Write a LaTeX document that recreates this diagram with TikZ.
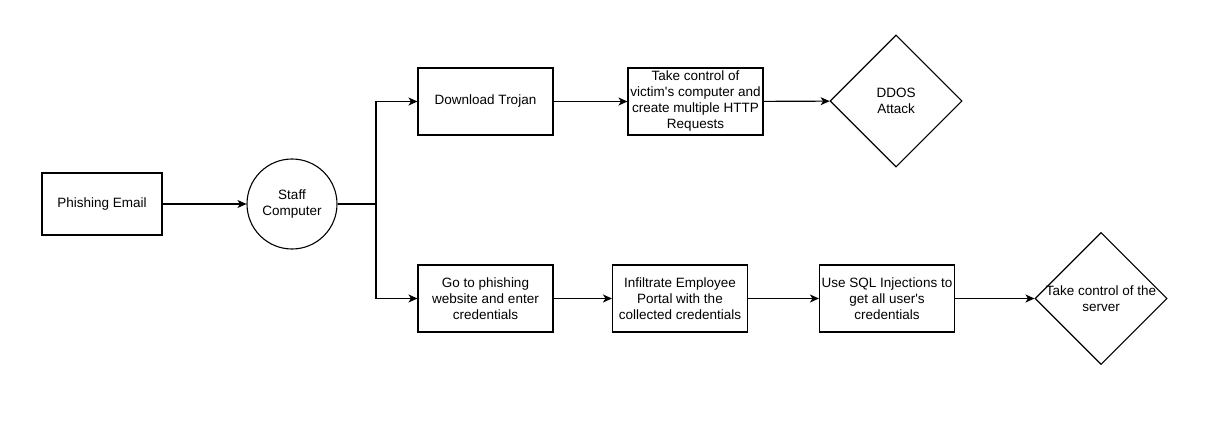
\documentclass[tikz,border=0pt]{standalone}
\usepackage{fontspec}
\setmainfont{Liberation Sans}
\usetikzlibrary{shapes.geometric,arrows.meta}
\begin{document}
\begin{tikzpicture}[x=1pt,y=-1pt,
  every node/.style={font=\fontsize{13.5}{16}\selectfont, align=center, text=black},
  box/.style={draw, line width=1.1pt, minimum width=135pt, minimum height=67pt, inner sep=1pt},
  circ/.style={draw, line width=1.1pt, circle, minimum size=90pt, inner sep=0pt},
  diam/.style={draw, line width=1.1pt, diamond, aspect=1, minimum size=132pt, inner sep=0pt},
  conn/.style={line width=1.1pt, -{Stealth[length=9pt,width=8pt,inset=2.5pt]}},
  plain/.style={line width=1.1pt}]
\useasboundingbox (0,0) rectangle (1218,433);
\node[box, minimum width=120pt, minimum height=62pt] (email) at (102,204) {Phishing Email};
\node[circ] (staff) at (292,204) {Staff\\Computer};
\coordinate (branch) at (376,204);
\node[box] (trojan) at (485.5,101.5) {Download Trojan};
\node[box] (control) at (695.5,101.5) {Take control of\\victim\textquotesingle s computer and\\create multiple HTTP\\Requests};
\node[diam, label={[align=center]center:DDOS\\Attack}] (ddos) at (896,101) {};
\node[box] (website) at (485.5,298.5) {Go to phishing\\website and enter\\credentials};
\node[box] (portal) at (680,298.5) {Infiltrate Employee\\Portal with the\\collected credentials};
\node[box] (sql) at (887,298.5) {Use SQL Injections to\\get all user\textquotesingle s\\credentials};
\node[diam, label={[align=center]center:Take control of the\\server}] (server) at (1101,298.5) {};
\draw[conn] (email) -- (staff);
\draw[plain] (staff.east) -- (branch);
\draw[conn] (branch) |- (trojan.west);
\draw[conn] (branch) |- (website.west);
\draw[conn] (trojan) -- (control);
\draw[conn] (control) -- (ddos);
\draw[conn] (website) -- (portal);
\draw[conn] (portal) -- (sql);
\draw[conn] (sql) -- (server);
\end{tikzpicture}
\end{document}
